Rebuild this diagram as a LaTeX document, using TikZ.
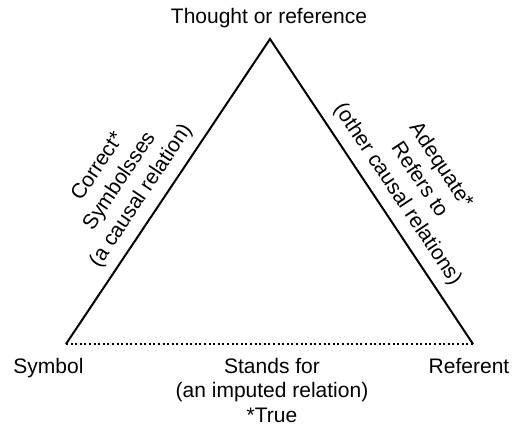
\documentclass[tikz,border=0pt]{standalone}
\usepackage{fontspec}
\setmainfont{Liberation Sans}
\begin{document}
\begin{tikzpicture}[x=1pt,y=-1pt,
  lbl/.style={font=\fontsize{21}{24.5}\selectfont, inner sep=0pt},
  side/.style={lbl, align=center, font=\fontsize{21}{26}\selectfont},
  edge/.style={line width=2pt, line join=miter},
  dotline/.style={line width=2pt, dash pattern=on 2pt off 2.6pt}]
  \useasboundingbox (0,0) rectangle (516,429);
  % corners of the triangle
  \coordinate (apex) at (270,39);
  \coordinate (sym) at (66,344);
  \coordinate (ref) at (473,344);
  % corner labels
  \node[lbl, anchor=base] (thought) at (269,23) {Thought or reference};
  \node[lbl, anchor=base] (symbol) at (48.5,373) {Symbol};
  \node[lbl, anchor=base] (referent) at (469,373) {Referent};
  % the two solid sides with their labels
  \draw[edge] (sym) -- node[side, pos=0.45, sloped, above=9pt] (left) {Correct*\\Symbolsses\\(a causal relation)} (apex)
              -- node[side, pos=0.546, sloped, above=9pt] (right) {Adequate*\\Refers to\\(other causal relations)} (ref);
  % dotted base
  \draw[dotline] (sym) -- (ref);
  \node[side, font=\fontsize{21}{24.5}\selectfont, anchor=north] (stands) at (272,358) {Stands for\\(an imputed relation)\\*True};
\end{tikzpicture}
\end{document}
